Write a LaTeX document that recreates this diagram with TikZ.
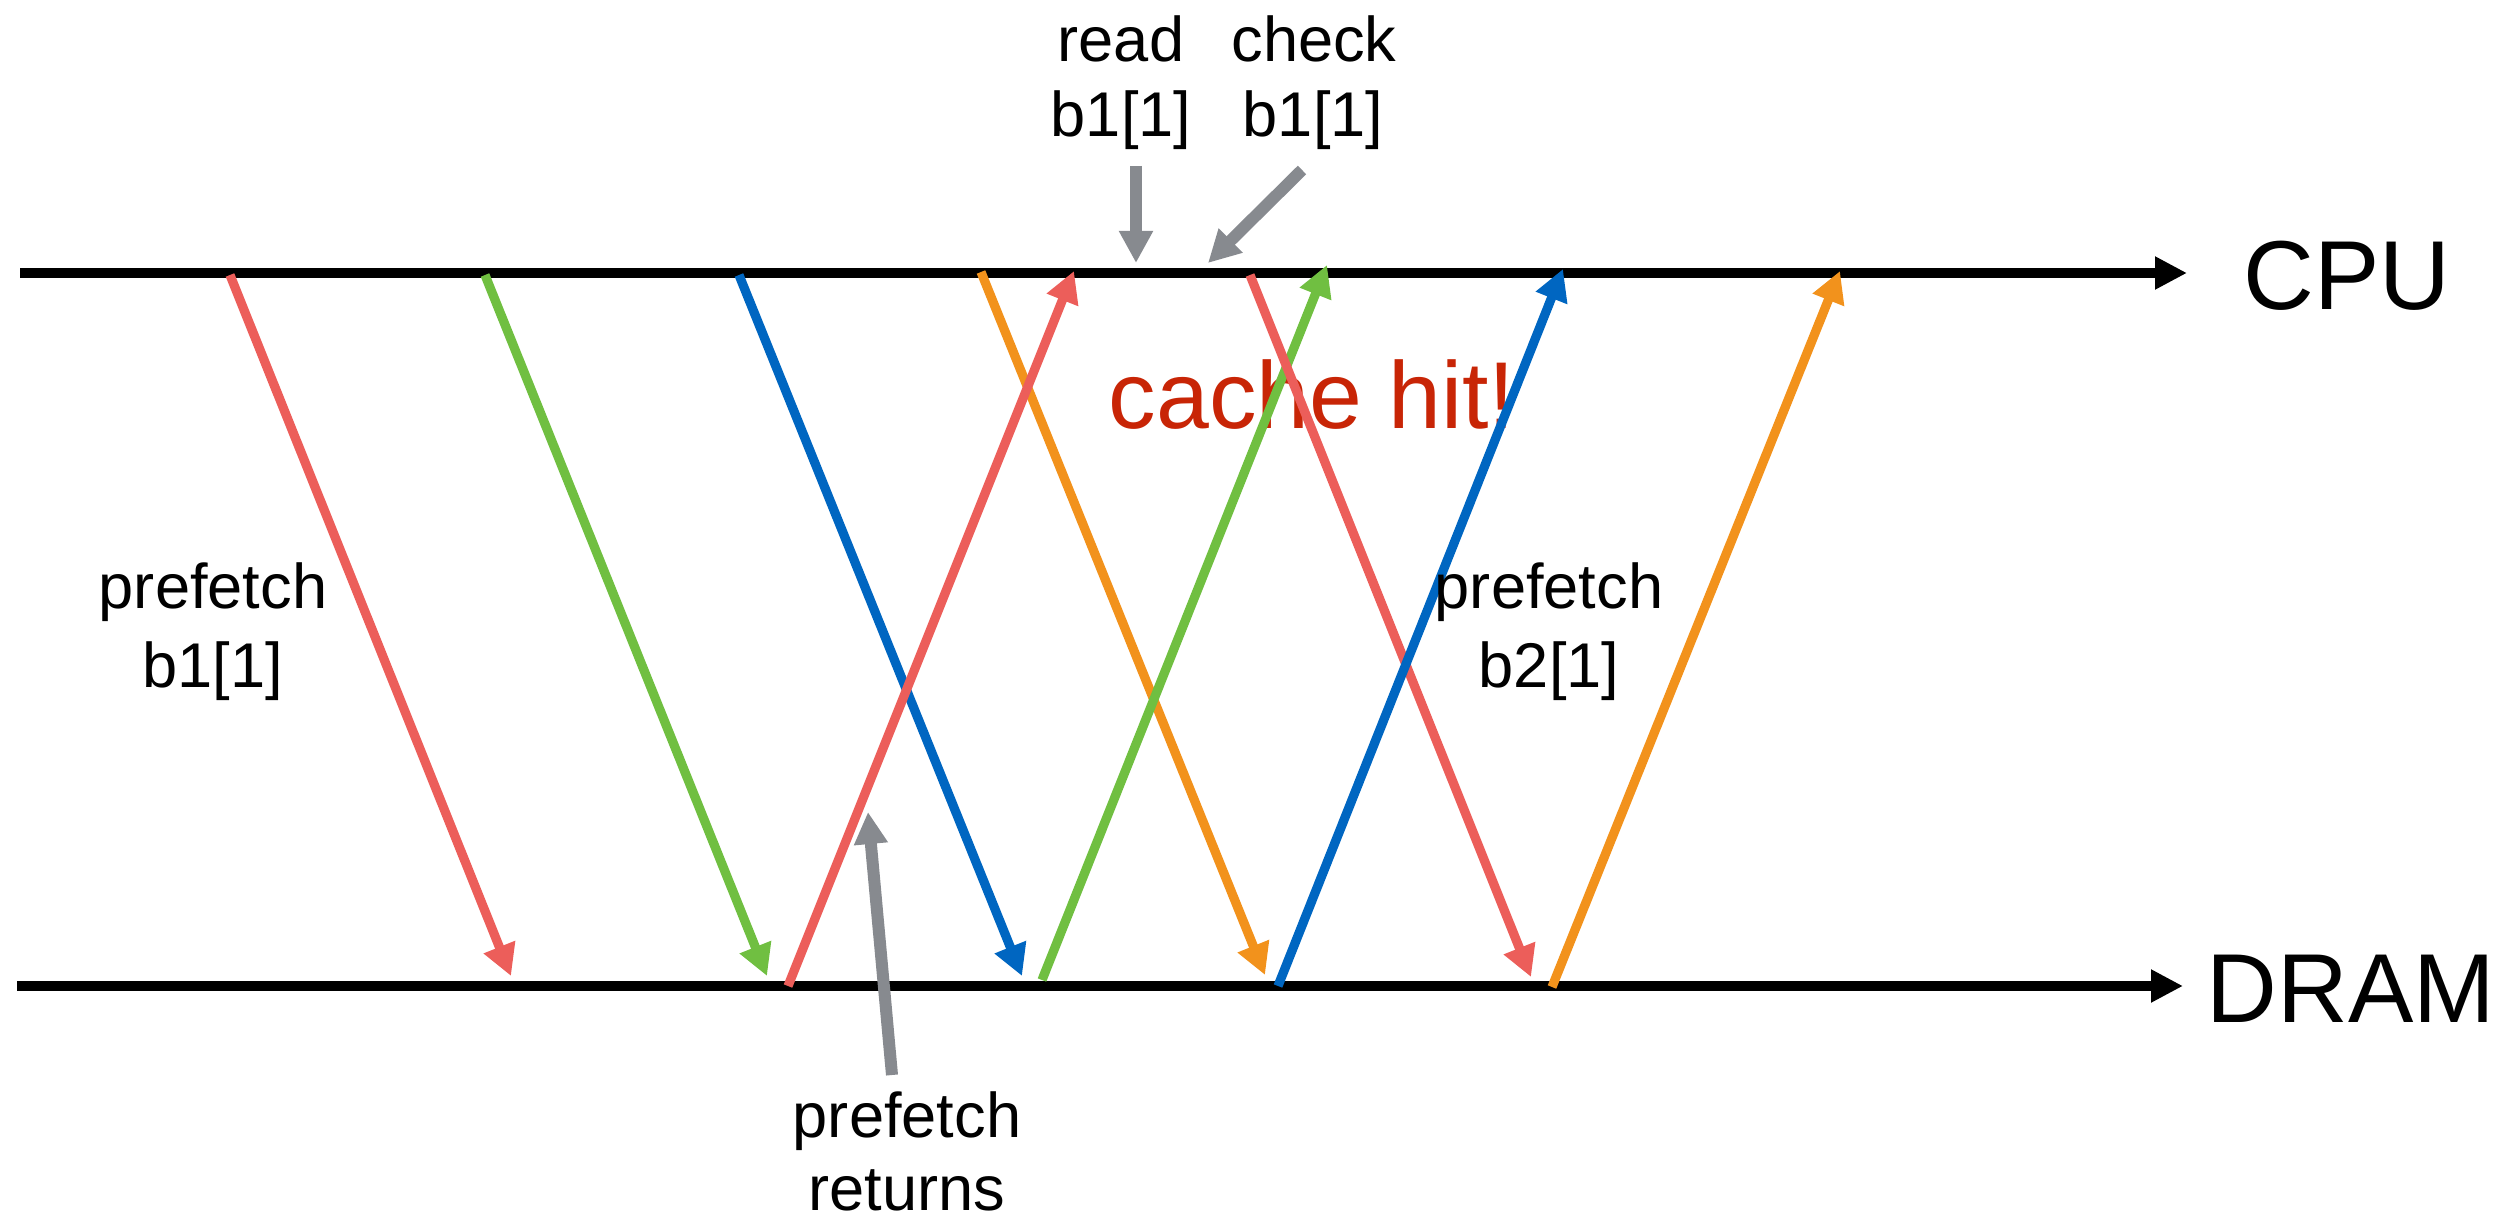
\documentclass[tikz,border=0pt]{standalone}
\usepackage{fontspec}
\setmainfont{Liberation Sans}
\usetikzlibrary{arrows.meta}

\definecolor{cred}{HTML}{EC5E5A}
\definecolor{cgreen}{HTML}{70BF41}
\definecolor{cblue}{HTML}{0066C1}
\definecolor{corange}{HTML}{F2921C}
\definecolor{cgray}{HTML}{878A8F}
\definecolor{hitred}{HTML}{C82506}

\tikzset{
  timeline/.style={line width=2.5pt, -{Triangle[length=8pt, width=7.75pt]}},
  msg/.style={line width=2.3pt, -{Triangle[length=7.8pt, width=8pt]}},
  pointer/.style={cgray, line width=3pt, -{Triangle[length=8pt, width=8pt]}},
  lbl/.style={font=\fontsize{15.8}{19}\selectfont, inner sep=0pt, anchor=base},
  axislbl/.style={font=\fontsize{24.5}{28}\selectfont, inner sep=0pt, anchor=base west},
}

\begin{document}
\begin{tikzpicture}[x=0.25pt, y=-0.25pt]
\useasboundingbox (0,0) rectangle (2509,1219);

% time lines
\coordinate (cpuL) at (20,273);
\coordinate (cpuR) at (2187,273);
\coordinate (dramL) at (17,986);
\coordinate (dramR) at (2183,986);

% label under the requests
\node[font=\fontsize{23.75}{28}\selectfont, text=hitred, inner sep=0pt, anchor=base] (hit) at (1312,428) {cache hit!};

\draw[timeline] (cpuL) -- (cpuR);
\draw[timeline] (dramL) -- (dramR);

\node[axislbl] (cpu) at (2243,310) {CPU};
\node[axislbl] (dram) at (2206,1022) {DRAM};

% request / reply end points
\coordinate (r1a) at (230,275);  \coordinate (r1b) at (511,976);
\coordinate (g1a) at (485,275);  \coordinate (g1b) at (767,976);
\coordinate (b1a) at (739,275);  \coordinate (b1b) at (1022,976);
\coordinate (o1a) at (981,272);  \coordinate (o1b) at (1265,975);
\coordinate (r2a) at (788,986);  \coordinate (r2b) at (1074,271);
\coordinate (g2a) at (1042,980); \coordinate (g2b) at (1327,265);
\coordinate (r3a) at (1250,275); \coordinate (r3b) at (1531,977);
\coordinate (b2a) at (1278,986); \coordinate (b2b) at (1563,269);
\coordinate (o2a) at (1552,987); \coordinate (o2b) at (1840,271);

\draw[msg, cred]    (r1a) -- (r1b);
\draw[msg, cgreen]  (g1a) -- (g1b);
\draw[msg, cblue]   (b1a) -- (b1b);
\draw[msg, corange] (o1a) -- (o1b);
\draw[msg, cred]    (r2a) -- (r2b);
\draw[msg, cgreen]  (g2a) -- (g2b);
\draw[msg, cred]    (r3a) -- (r3b);
\draw[msg, cblue]   (b2a) -- (b2b);
\draw[msg, corange] (o2a) -- (o2b);

% annotations
\node[lbl] (read1) at (1121,62) {read};
\node[lbl] (read2) at (1121,137) {b1[1]};
\node[lbl] (chk1) at (1314,62) {check};
\node[lbl] (chk2) at (1313,137) {b1[1]};
\node[lbl] (pf1a) at (213,608) {prefetch};
\node[lbl] (pf1b) at (213,687) {b1[1]};
\node[lbl] (pf2a) at (1549,608) {prefetch};
\node[lbl] (pf2b) at (1549,687) {b2[1]};
\node[lbl] (ret1) at (907,1137) {prefetch};
\node[lbl] (ret2) at (907,1210) {returns};

\coordinate (readS) at (1136,166); \coordinate (readT) at (1136,263);
\coordinate (chkS) at (1302,170);  \coordinate (chkT) at (1208,263);
\coordinate (retS) at (892,1075);  \coordinate (retT) at (868,812);

\draw[pointer] (readS) -- (readT);
\draw[pointer] (chkS) -- (chkT);
\draw[pointer] (retS) -- (retT);
\end{tikzpicture}
\end{document}
